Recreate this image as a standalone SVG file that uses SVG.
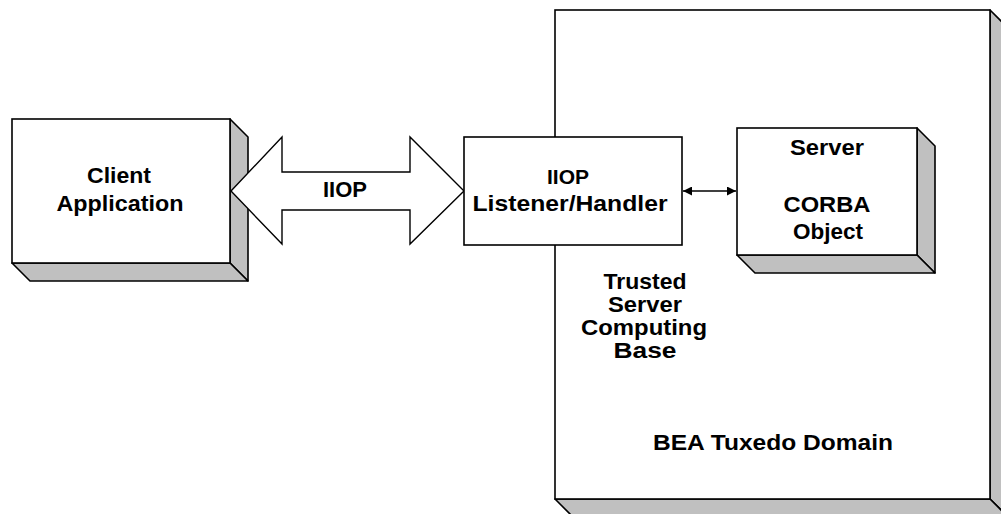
<svg xmlns="http://www.w3.org/2000/svg" width="1001" height="514" viewBox="0 0 1001 514">
<style>
.front{fill:#fff;stroke:#000;stroke-width:1.6}
.shade{fill:#c0c0c0;stroke:#000;stroke-width:1.6;stroke-linejoin:round}
.lbl{font-family:"Liberation Sans",Arial,sans-serif;font-size:22px;font-weight:bold;fill:#000;text-anchor:middle}
.conn{stroke:#000;stroke-width:1.6;fill:none}
</style>
<defs>
<marker id="ah" viewBox="0 0 10 10" refX="10" refY="5" markerWidth="9" markerHeight="9" markerUnits="userSpaceOnUse" orient="auto-start-reverse">
<path d="M0,0 L10,5 L0,10 Z" fill="#000"/>
</marker>
</defs>
<rect width="1001" height="514" fill="#fff"/>

<g id="domain">
<polygon class="shade" points="990,10 1008,28 1008,517 990,499"/>
<polygon class="shade" points="555,499 573,517 1008,517 990,499"/>
<rect class="front" x="555" y="10" width="435" height="489"/>
<text class="lbl" x="645" y="289" textLength="83" lengthAdjust="spacingAndGlyphs">Trusted</text>
<text class="lbl" x="645" y="312" textLength="74" lengthAdjust="spacingAndGlyphs">Server</text>
<text class="lbl" x="644" y="335" textLength="126" lengthAdjust="spacingAndGlyphs">Computing</text>
<text class="lbl" x="645" y="358" textLength="63" lengthAdjust="spacingAndGlyphs">Base</text>
<text class="lbl" x="773" y="450" textLength="240" lengthAdjust="spacingAndGlyphs">BEA Tuxedo Domain</text>
</g>

<g id="client">
<polygon class="shade" points="230,119 248,137 248,281 230,263"/>
<polygon class="shade" points="12,263 30,281 248,281 230,263"/>
<rect class="front" x="12" y="119" width="218" height="144"/>
<text class="lbl" x="119" y="183" textLength="64" lengthAdjust="spacingAndGlyphs">Client</text>
<text class="lbl" x="120" y="211" textLength="127" lengthAdjust="spacingAndGlyphs">Application</text>
</g>

<g id="connectors">
<polygon id="iiop-arrow" points="231,191 282,137 282,172 410,172 410,137 464,191 410,244 410,210 282,210 282,244" fill="#fff" stroke="#000" stroke-width="1.4" stroke-linejoin="miter"/>
<text class="lbl" x="345" y="197" textLength="44" lengthAdjust="spacingAndGlyphs">IIOP</text>
<line class="conn" x1="683" y1="191" x2="736" y2="191" marker-start="url(#ah)" marker-end="url(#ah)"/>
</g>

<g id="listener">
<rect class="front" x="464" y="137" width="218" height="108"/>
<text class="lbl" x="568" y="184" style="font-size:21px">IIOP</text>
<text class="lbl" x="570" y="211" textLength="195" lengthAdjust="spacingAndGlyphs">Listener/Handler</text>
</g>

<g id="server">
<polygon class="shade" points="917,128 935,146 935,273 917,255"/>
<polygon class="shade" points="737,255 755,273 935,273 917,255"/>
<rect class="front" x="737" y="128" width="180" height="127"/>
<text class="lbl" x="827" y="155" textLength="74" lengthAdjust="spacingAndGlyphs">Server</text>
<text class="lbl" x="827" y="212" textLength="87" lengthAdjust="spacingAndGlyphs">CORBA</text>
<text class="lbl" x="828" y="239" textLength="70" lengthAdjust="spacingAndGlyphs">Object</text>
</g>
</svg>
